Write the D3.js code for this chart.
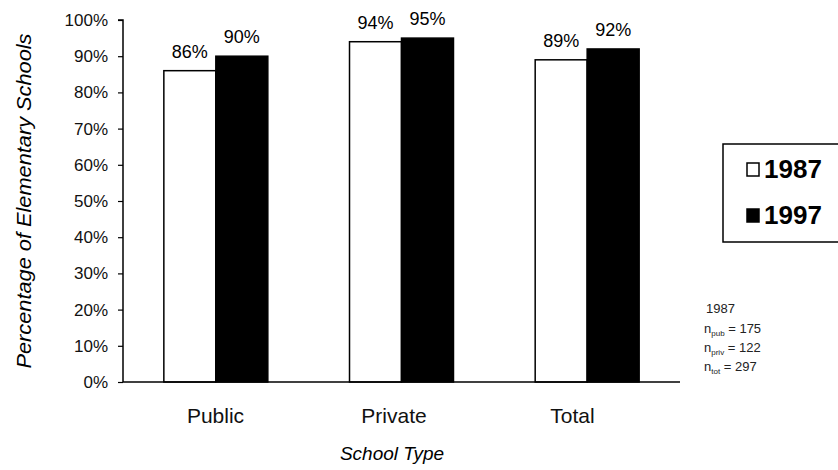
<!DOCTYPE html>
<html><head><meta charset="utf-8">
<script src="https://cdn.jsdelivr.net/npm/d3@7"></script>
<style>body{margin:0;background:#fff}svg{display:block}</style>
</head><body>
<svg id="c" width="838" height="470"></svg>
<script>
const categories = ["Public", "Private", "Total"];
const years = ["1987", "1997"];
const values1987 = [86, 94, 89];
const values1997 = [90, 95, 92];
const yTicks = [0, 10, 20, 30, 40, 50, 60, 70, 80, 90, 100];
const sampleNotes = [["pub", "175"], ["priv", "122"], ["tot", "297"]];

const svg = d3.select("#c");
const font = "'Liberation Sans', Arial, Helvetica, sans-serif";
const L = 123, R = 680, T = 20, B = 382;

const x0 = d3.scaleBand().domain(categories).range([L, R]).paddingInner(0.44).paddingOuter(0.22);
const x1 = d3.scaleBand().domain(years).range([0, x0.bandwidth()]);
const xLabel = d3.scalePoint().domain(categories).range([L + 92, R - 108]);
const y = d3.scaleLinear().domain([0, 100]).range([B, T]);
const fill = d3.scaleOrdinal().domain(years).range(["#fff", "#000"]);

const data = categories.map((c, i) => ({cat: c, vals: [{year: "1987", v: values1987[i]}, {year: "1997", v: values1997[i]}]}));

// bars
const g = svg.append("g");
const groups = g.selectAll("g.grp").data(data).join("g").attr("transform", d => `translate(${x0(d.cat)},0)`);
groups.selectAll("rect").data(d => d.vals).join("rect")
  .attr("x", d => x1(d.year)).attr("width", x1.bandwidth())
  .attr("y", d => y(d.v)).attr("height", d => B - y(d.v))
  .attr("fill", d => fill(d.year)).attr("stroke", "#000").attr("stroke-width", 1.5);
groups.selectAll("text").data(d => d.vals).join("text")
  .attr("x", d => x1(d.year) + x1.bandwidth() / 2).attr("y", d => y(d.v) - 13)
  .attr("text-anchor", "middle").attr("font-family", font).attr("font-size", 18)
  .text(d => d.v + "%");

// y axis
const yAxis = d3.axisLeft(y).tickValues(yTicks).tickFormat(d => d + "%").tickSize(5).tickPadding(10);
const ya = svg.append("g").attr("transform", `translate(${L},0)`).call(yAxis);
ya.select(".domain").attr("stroke", "#000").attr("stroke-width", 1.5).attr("d", `M-5,${T}H0V${B}`);
ya.selectAll(".tick line").attr("stroke-width", 1.2);
ya.selectAll(".tick text").attr("font-family", font).attr("font-size", 17).attr("fill", "#111");

// x axis
const xAxis = d3.axisBottom(xLabel).tickSize(0).tickPadding(26);
const xa = svg.append("g").attr("transform", `translate(0,${B})`).call(xAxis);
xa.select(".domain").attr("stroke", "#000").attr("stroke-width", 1.5).attr("d", `M${L},0H${R}`);
xa.selectAll(".tick text").attr("font-family", font).attr("font-size", 21).attr("fill", "#111");

// axis titles
svg.append("text").attr("transform", `translate(31,${(T + B) / 2}) rotate(-90)`)
  .attr("text-anchor", "middle").attr("font-family", font).attr("font-size", 20).attr("font-style", "italic")
  .attr("textLength", 335).attr("lengthAdjust", "spacingAndGlyphs")
  .text("Percentage of Elementary Schools");
svg.append("text").attr("x", 392).attr("y", 460)
  .attr("text-anchor", "middle").attr("font-family", font).attr("font-size", 19).attr("font-style", "italic")
  .text("School Type");

// legend
const lg = svg.append("g");
lg.append("path").attr("d", "M838,144H723V242H838").attr("fill", "none").attr("stroke", "#000").attr("stroke-width", 1.5);
years.forEach((yr, i) => {
  const cy = 169 + i * 46;
  lg.append("rect").attr("x", 747).attr("y", cy - 6).attr("width", 12).attr("height", 13)
    .attr("fill", fill(yr)).attr("stroke", "#000").attr("stroke-width", 1.5);
  lg.append("text").attr("x", 764).attr("y", cy + 9).attr("font-family", font).attr("font-size", 26)
    .attr("font-weight", "bold").text(yr);
});

// sample notes
const nt = svg.append("g").attr("font-family", font).attr("font-size", 13).attr("fill", "#222");
nt.append("text").attr("x", 706).attr("y", 313).text(years[0]);
sampleNotes.forEach((s, i) => {
  const t = nt.append("text").attr("x", 704).attr("y", 333 + i * 19);
  t.append("tspan").text("n");
  t.append("tspan").attr("font-size", 8).attr("dy", 3).text(s[0]);
  t.append("tspan").attr("dy", -3).text(" = " + s[1]);
});
</script>
</body></html>
